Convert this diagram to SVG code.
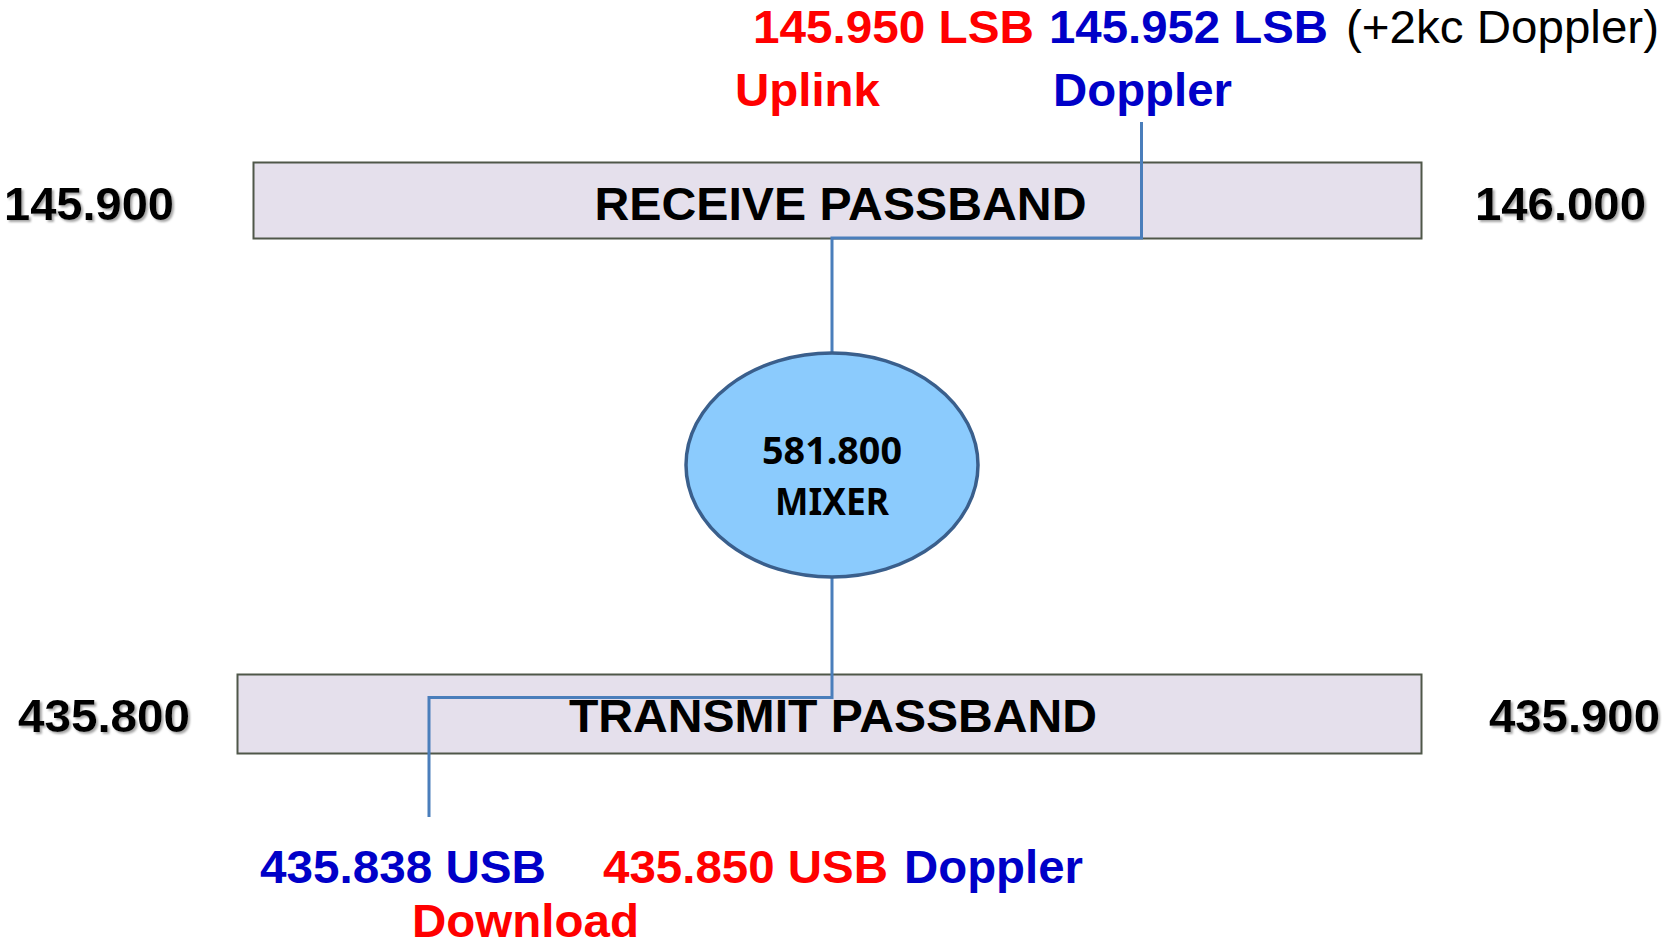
<svg xmlns="http://www.w3.org/2000/svg" width="1662" height="945" viewBox="0 0 1662 945">
<defs>
<filter id="sh" x="-10%" y="-20%" width="130%" height="160%">
<feDropShadow dx="2" dy="2" stdDeviation="1" flood-color="#7f7f7f" flood-opacity="0.7"/>
</filter>
</defs>
<style>
text{font-family:"Liberation Sans",Arial,sans-serif;font-weight:bold;font-size:47px}
.r{fill:#FF0000}
.b{fill:#0000C8}
.k{fill:#000}
.n{font-weight:normal}
.f{filter:url(#sh)}
.band{fill:#E5E0EC;stroke:#4F5749;stroke-width:2}
.conn{fill:none;stroke:#4A7EBB;stroke-width:3}
.mx{font-family:"Noto Sans","Open Sans",sans-serif;font-size:38px}
</style>
<rect width="1662" height="945" fill="#fff"/>
<g id="labels-top">
<text class="r" x="753" y="43" textLength="281" lengthAdjust="spacingAndGlyphs">145.950 LSB</text>
<text class="b" x="1049" y="43" textLength="279" lengthAdjust="spacingAndGlyphs">145.952 LSB</text>
<text class="k n" x="1346" y="43" textLength="313" lengthAdjust="spacingAndGlyphs">(+2kc Doppler)</text>
<text class="r" x="735" y="106" textLength="145" lengthAdjust="spacingAndGlyphs">Uplink</text>
<text class="b" x="1053" y="106" textLength="179" lengthAdjust="spacingAndGlyphs">Doppler</text>
</g>
<g id="receive">
<rect class="band" x="253.5" y="162.5" width="1168" height="76"/>
<text class="k" x="840.5" y="220" text-anchor="middle" textLength="492" lengthAdjust="spacingAndGlyphs">RECEIVE PASSBAND</text>
</g>
<g id="freq-145900"><text class="k f" x="4" y="220" textLength="170" lengthAdjust="spacingAndGlyphs">145.900</text></g>
<g id="freq-146000"><text class="k f" x="1475" y="220" textLength="171" lengthAdjust="spacingAndGlyphs">146.000</text></g>
<g id="transmit">
<rect class="band" x="237.5" y="674.5" width="1184" height="79"/>
<text class="k" x="833" y="732" text-anchor="middle" textLength="528" lengthAdjust="spacingAndGlyphs">TRANSMIT PASSBAND</text>
</g>
<g id="freq-435800"><text class="k f" x="18" y="732" textLength="172" lengthAdjust="spacingAndGlyphs">435.800</text></g>
<g id="freq-435900"><text class="k f" x="1489" y="732" textLength="171" lengthAdjust="spacingAndGlyphs">435.900</text></g>
<g id="connectors">
<polyline class="conn" points="1141.5,122 1141.5,238 832,238 832,353"/>
<polyline class="conn" points="832,578 832,697.5 429,697.5 429,817"/>
</g>
<g id="mixer">
<ellipse cx="832" cy="465" rx="146" ry="112" fill="#8BCBFD" stroke="#3A5F8C" stroke-width="3.5"/>
<text class="k mx" x="832" y="464" text-anchor="middle" textLength="140" lengthAdjust="spacingAndGlyphs">581.800</text>
<text class="k mx" x="832" y="515" text-anchor="middle" textLength="114" lengthAdjust="spacingAndGlyphs">MIXER</text>
</g>
<g id="labels-bottom">
<text class="b" x="260" y="883" textLength="286" lengthAdjust="spacingAndGlyphs">435.838 USB</text>
<text class="r" x="603" y="883" textLength="285" lengthAdjust="spacingAndGlyphs">435.850 USB</text>
<text class="b" x="904" y="883" textLength="179" lengthAdjust="spacingAndGlyphs">Doppler</text>
<text class="r" x="412" y="937" textLength="227" lengthAdjust="spacingAndGlyphs">Download</text>
</g>
</svg>
